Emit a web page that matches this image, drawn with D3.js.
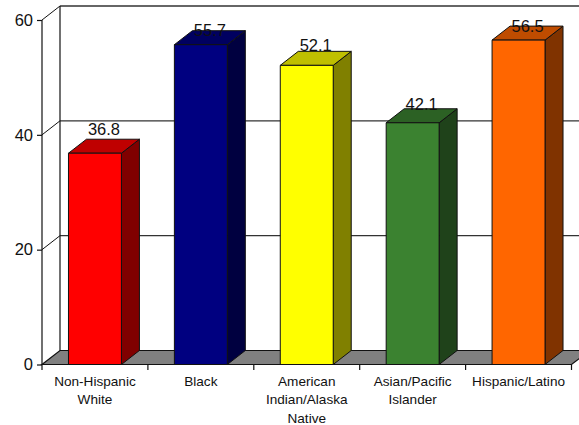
<!DOCTYPE html>
<html>
<head>
<meta charset="utf-8">
<script src="https://cdn.jsdelivr.net/npm/d3@7"></script>
<style>
  html, body { margin: 0; padding: 0; background: #fff; }
  svg { display: block; }
  text { font-family: "Liberation Sans", Arial, sans-serif; fill: #111; }
</style>
</head>
<body>
<svg id="chart" width="579" height="425"></svg>
<script>
const categories = ["Non-Hispanic White", "Black", "American Indian/Alaska Native", "Asian/Pacific Islander", "Hispanic/Latino"];
const categoryLines = [["Non-Hispanic", "White"], ["Black"], ["American", "Indian/Alaska", "Native"], ["Asian/Pacific", "Islander"], ["Hispanic/Latino"]];
const values = [36.8, 55.7, 52.1, 42.1, 56.5];
const frontColors = ["#ff0000", "#000080", "#ffff00", "#3b8230", "#ff6600"];
const topColors = ["#bf0000", "#000060", "#bfbf00", "#2c6124", "#bf4c00"];
const sideColors = ["#800000", "#000040", "#808000", "#1f421a", "#803300"];
const yTicks = [0, 20, 40, 60];

// Layout of the oblique plot box
const left = 42, right = 571.5, depthX = 18, depthY = -14;
const svg = d3.select("#chart");
const y = d3.scaleLinear().domain([0, 60]).range([364.5, 20]);
const x = d3.scaleBand().domain(categories).range([left, right]).paddingInner(0.5).paddingOuter(0.25);
const labelNudge = [-4, 5, 0, 1, 6]; // vertical offset of each value label
const ink = "#111";
const poly = pts => pts.map(p => p.join(",")).join(" ");
const base = y(0);

// Floor
svg.append("polygon")
  .attr("points", poly([[left, base], [right, base], [right + depthX, base + depthY], [left + depthX, base + depthY]]))
  .attr("fill", "#808080").attr("stroke", ink).attr("stroke-width", 1.2);

// Back wall: gridlines, side-wall diagonals
const grid = svg.append("g").attr("stroke", "#333").attr("fill", "none");
grid.selectAll("line.back").data(yTicks.slice(1)).join("line")
  .attr("class", "back")
  .attr("x1", left + depthX).attr("x2", right + depthX)
  .attr("y1", d => y(d) + depthY).attr("y2", d => y(d) + depthY)
  .attr("stroke-width", d => d === 60 ? 1.5 : 1.2);
grid.selectAll("line.diag").data(yTicks.slice(1)).join("line")
  .attr("class", "diag")
  .attr("x1", left).attr("x2", left + depthX)
  .attr("y1", d => y(d)).attr("y2", d => y(d) + depthY)
  .attr("stroke", ink);
grid.append("line")
  .attr("x1", left + depthX).attr("x2", left + depthX)
  .attr("y1", y(60) + depthY).attr("y2", base + depthY)
  .attr("stroke", ink).attr("stroke-width", 1.2);

// Bars: side, top and front faces
const bars = svg.selectAll("g.bar").data(categories).join("g")
  .attr("class", "bar").attr("stroke", ink).attr("stroke-width", 1).attr("stroke-linejoin", "round");
bars.append("polygon").attr("fill", (d, i) => sideColors[i])
  .attr("points", (d, i) => {
    const r = x(d) + x.bandwidth(), t = y(values[i]);
    return poly([[r, t], [r + depthX, t + depthY], [r + depthX, base + depthY], [r, base]]);
  });
bars.append("polygon").attr("fill", (d, i) => topColors[i])
  .attr("points", (d, i) => {
    const l = x(d), r = l + x.bandwidth(), t = y(values[i]);
    return poly([[l, t], [r, t], [r + depthX, t + depthY], [l + depthX, t + depthY]]);
  });
bars.append("rect").attr("fill", (d, i) => frontColors[i])
  .attr("x", d => x(d)).attr("width", x.bandwidth())
  .attr("y", (d, i) => y(values[i])).attr("height", (d, i) => base - y(values[i]));

// Value labels
svg.selectAll("text.value").data(categories).join("text")
  .attr("class", "value")
  .attr("text-anchor", "middle").attr("font-size", 16.5)
  .attr("x", d => x(d) + x.bandwidth() / 2 + depthX / 2)
  .attr("y", (d, i) => y(values[i]) + depthY + labelNudge[i])
  .text((d, i) => values[i].toFixed(1));

// Value axis
const yAxis = svg.append("g").attr("transform", `translate(${left},0)`)
  .call(d3.axisLeft(y).tickValues(yTicks).tickSize(5).tickPadding(4));
yAxis.selectAll("path, line").attr("stroke", ink).attr("stroke-width", 1.2);
yAxis.select(".domain").attr("d", `M${0},${y(60)}V${base}`);
yAxis.selectAll("text").attr("font-size", 16.5).attr("font-family", null).attr("fill", null);

// Category axis with ticks on the band boundaries
const xEdges = categories.map(d => x(d) - x.bandwidth() / 2).concat(right);
svg.append("g").selectAll("line").data(xEdges).join("line")
  .attr("x1", d => d).attr("x2", d => d)
  .attr("y1", base).attr("y2", base + 5.5)
  .attr("stroke", ink).attr("stroke-width", 1.2);
svg.append("line").attr("x1", left).attr("x2", right).attr("y1", base).attr("y2", base)
  .attr("stroke", ink).attr("stroke-width", 1.2);

const xLabels = svg.selectAll("text.cat").data(categories).join("text")
  .attr("class", "cat").attr("text-anchor", "middle").attr("font-size", 13.6);
xLabels.selectAll("tspan").data((d, i) => categoryLines[i].map(line => ({ d, line }))).join("tspan")
  .attr("x", o => x(o.d) + x.bandwidth() / 2)
  .attr("y", (o, j) => 385.5 + j * 18.5)
  .text(o => o.line);
</script>
</body>
</html>
